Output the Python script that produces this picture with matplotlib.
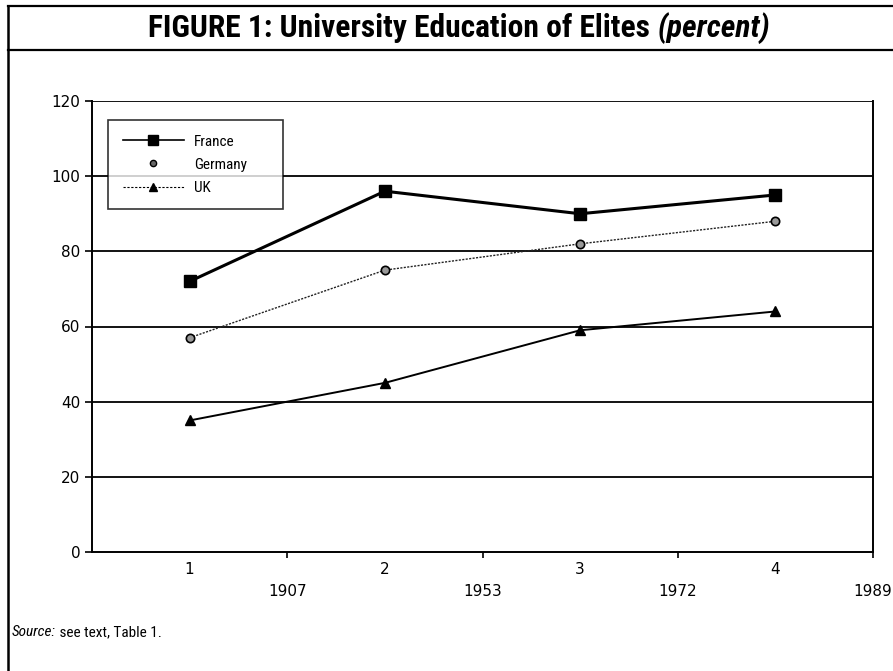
import matplotlib
matplotlib.use("Agg")
import matplotlib.pyplot as plt
from matplotlib.lines import Line2D
from matplotlib import font_manager

# ---- data ----
periods = [1, 2, 3, 4]
period_labels = ["1", "2", "3", "4"]
year_labels = ["1907", "1953", "1972", "1989"]
france = [72, 96, 90, 95]
germany = [57, 75, 82, 88]
uk = [35, 45, 59, 64]
y_ticks = [0, 20, 40, 60, 80, 100, 120]

available = {f.name for f in font_manager.fontManager.ttflist}
narrow = "DejaVu Sans"
for cand in ["Liberation Sans Narrow", "Roboto Condensed", "DejaVu Sans Condensed",
             "Open Sans Condensed", "Liberation Sans"]:
    if cand in available:
        narrow = cand
        break

W, H = 893, 671
fig = plt.figure(figsize=(W / 100, H / 100), dpi=100)
fig.patch.set_facecolor("white")

ax = fig.add_axes([92 / W, 1 - 552 / H, (873 - 92) / W, (552 - 101) / H])

ax.set_xlim(0.5, 4.5)
ax.set_ylim(0, 120)

for v in y_ticks[1:]:
    ax.axhline(v, color="black", lw=1.3, zorder=1)

ax.plot(periods, france, color="black", lw=2.2, marker="s", ms=8,
        mfc="black", mec="black", zorder=3)
ax.plot(periods, germany, color="#222222", lw=1.0, ls=(0, (1.5, 1)),
        marker="o", ms=6, mfc="#999999", mec="black", mew=1.2, zorder=3)
ax.plot(periods, uk, color="black", lw=1.4, marker="^", ms=7,
        mfc="black", mec="black", zorder=3)

ax.spines["top"].set_visible(False)
for s in ["left", "right", "bottom"]:
    ax.spines[s].set_linewidth(1.4)

ax.set_yticks(y_ticks)
ax.set_yticklabels([str(v) for v in y_ticks])
ax.tick_params(axis="y", direction="out", length=5, width=1.2, pad=3.5,
               labelsize=11)

ax.set_xticks(periods)
ax.set_xticklabels(period_labels)
ax.tick_params(axis="x", which="major", length=0, pad=7, labelsize=11)
ax.set_xticks([p + 0.5 for p in periods], minor=True)
ax.set_xticklabels(year_labels, minor=True)
ax.tick_params(axis="x", which="minor", direction="out", length=4, width=1.2,
               pad=19, labelsize=11)

handles = [
    Line2D([], [], color="black", lw=1.2, marker="s", ms=7, mfc="black"),
    Line2D([], [], color="none", lw=0, marker="o", ms=4.5, mfc="#666666",
           mec="black"),
    Line2D([], [], color="black", lw=0.8, ls=(0, (2, 1.5)), marker="^", ms=6,
           mfc="black"),
]
ax_w, ax_h = 873 - 92, 552 - 101
leg = ax.legend(handles, ["France", "Germany", "UK"],
                loc="upper left", mode="expand",
                bbox_to_anchor=((108 - 92) / ax_w, 1 - (206 - 101) / ax_h,
                                (283 - 108) / ax_w, (206 - 120) / ax_h),
                frameon=True, fancybox=False, edgecolor="black",
                prop={"family": narrow, "size": 11},
                handlelength=4.0, borderpad=0.95, labelspacing=0.6,
                handletextpad=0.7, borderaxespad=0)
leg.get_frame().set_linewidth(1.2)
leg.set_zorder(5)

fig.add_artist(Line2D([8 / W, 1], [1 - 6 / H, 1 - 6 / H], color="black", lw=1.6))
fig.add_artist(Line2D([8 / W, 1], [1 - 50 / H, 1 - 50 / H], color="black", lw=1.6))
fig.add_artist(Line2D([8 / W, 8 / W], [0, 1 - 6 / H], color="black", lw=1.8))

renderer = fig.canvas.get_renderer()

# title: fit to reference width (148..770 px)
fs = 16.0
for _ in range(3):
    ta = fig.text(0, 0, "FIGURE 1: University Education of Elites ",
                  fontsize=fs, fontweight="bold", family=narrow)
    tb = fig.text(0, 0, "(percent)", fontsize=fs, fontweight="bold",
                  fontstyle="italic", family=narrow)
    w = ta.get_window_extent(renderer).width + tb.get_window_extent(renderer).width
    ta.remove(); tb.remove()
    fs = fs * 622 / w
t_a = fig.text(148 / W, 1 - 28 / H, "FIGURE 1: University Education of Elites ",
               ha="left", va="center", fontsize=fs, fontweight="bold",
               family=narrow)
wa = t_a.get_window_extent(renderer).width
fig.text((148 + wa) / W, 1 - 28 / H, "(percent)", ha="left", va="center",
         fontsize=fs, fontweight="bold", fontstyle="italic", family=narrow)

# source: fit to reference width (12..160 px)
sfs = 11.0
for _ in range(3):
    s1 = fig.text(0, 0, "Source:", fontsize=sfs, fontstyle="italic", family=narrow)
    s2 = fig.text(0, 0, " see text, Table 1.", fontsize=sfs, family=narrow)
    w = s1.get_window_extent(renderer).width + s2.get_window_extent(renderer).width
    s1.remove(); s2.remove()
    sfs = sfs * 150 / w
t1 = fig.text(12 / W, 1 - 632 / H, "Source:", ha="left", va="center",
              fontsize=sfs, fontstyle="italic", family=narrow)
w1 = t1.get_window_extent(renderer).width
fig.text((12 + w1) / W, 1 - 632 / H, " see text, Table 1.", ha="left",
         va="center", fontsize=sfs, family=narrow)

fig.savefig("out.png", dpi=100)
